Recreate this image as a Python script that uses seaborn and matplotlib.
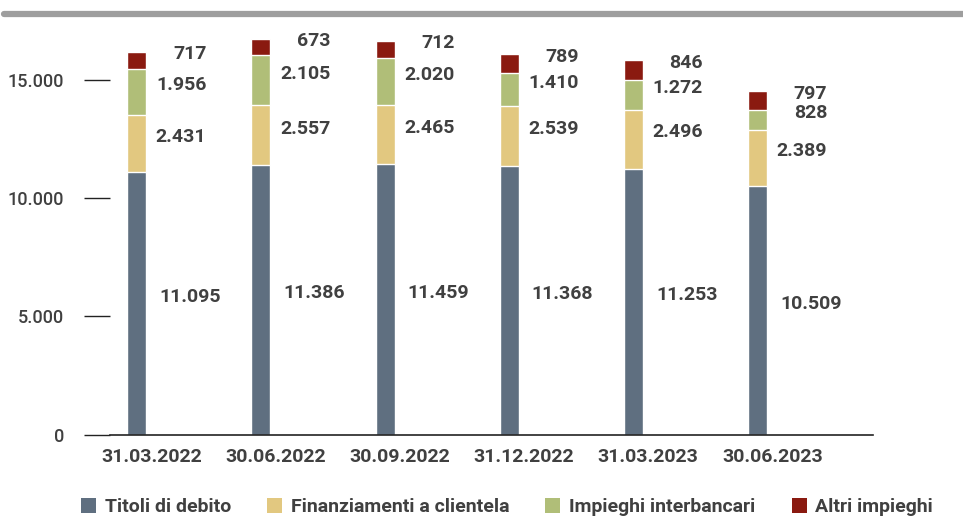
import numpy as np
import pandas as pd
import matplotlib
matplotlib.use("Agg")
import matplotlib.pyplot as plt
import seaborn as sns
from matplotlib.lines import Line2D
from matplotlib.patches import Patch

# data
dates = ["31.03.2022", "30.06.2022", "30.09.2022", "31.12.2022", "31.03.2023", "30.06.2023"]
titoli = [11095, 11386, 11459, 11368, 11253, 10509]
finanziamenti = [2431, 2557, 2465, 2539, 2496, 2389]
interbancari = [1956, 2105, 2020, 1410, 1272, 828]
altri = [717, 673, 712, 789, 846, 797]

series_names = ["Titoli di debito", "Finanziamenti a clientela", "Impieghi interbancari", "Altri impieghi"]
series_vals = [titoli, finanziamenti, interbancari, altri]
colors = ["#5f6f80", "#e2c880", "#b0be78", "#8a1a10"]
txt = "#404040"

sns.set_theme(style="white")
plt.rcParams["font.family"] = ["Roboto", "DejaVu Sans"]

fig = plt.figure(figsize=(9.63, 5.17), dpi=100)
ax = fig.add_axes([0.114, 0.1595, 0.7925, 0.80])

# cumulative stacks, drawn from the tallest down
cum = np.cumsum(np.array(series_vals), axis=0)
for i in range(3, -1, -1):
    df = pd.DataFrame({"date": dates, "val": cum[i]})
    sns.barplot(data=df, x="date", y="val", color=colors[i], width=0.153,
                saturation=1, ax=ax, zorder=2)

# value labels, to the right of each bar
offsets = [0.43, 0.56, 0.56, 0.56]
aligns = ["center", "right", "right", "right"]
for j in range(len(dates)):
    base = 0
    for i in range(4):
        v = series_vals[i][j]
        mid = base + v / 2
        label = f"{v:,}".replace(",", ".")
        ax.text(j + offsets[i], mid + 280, label, ha=aligns[i], va="center",
                fontsize=14, fontweight="bold", color=txt)
        base += v

ax.set_xlim(-0.217, 5.93)
ax.set_ylim(0, 17500)
ax.set_yticks([0, 5000, 10000, 15000])
ax.set_yticklabels(["0", "5.000", "10.000", "15.000"])
# date labels sit a bit right of the bars
ax.set_xticks(np.arange(len(dates)) + 0.12)
ax.set_xticklabels(dates)
ax.set_xlabel("")
ax.set_ylabel("")
for s in ["top", "right", "left"]:
    ax.spines[s].set_visible(False)
ax.spines["bottom"].set_color("#222222")
ax.spines["bottom"].set_linewidth(1.2)
ax.tick_params(axis="y", left=True, direction="out", length=19, width=1,
               color="#222222", pad=14, labelsize=13, labelcolor=txt)
ax.tick_params(axis="x", bottom=False, length=0, pad=10, labelsize=14,
               labelcolor=txt)
for lbl in ax.get_yticklabels():
    lbl.set_fontweight("medium")
for lbl in ax.get_xticklabels():
    lbl.set_fontweight("bold")

# gray band at the top
fig.add_artist(Line2D([0.004, 1.0], [0.973, 0.973], transform=fig.transFigure,
                      color="#9e9e9e", linewidth=4.5))

handles = [Patch(facecolor=c, edgecolor="none") for c in colors]
leg = fig.legend(handles, series_names, loc="center left", ncol=4,
                 bbox_to_anchor=(0.084, 0.019), frameon=False,
                 borderpad=0, borderaxespad=0,
                 handlelength=0.77, handleheight=0.77, columnspacing=1.85,
                 handletextpad=0.46, prop={"size": 14, "weight": "bold"})
for t in leg.get_texts():
    t.set_color(txt)

fig.savefig("out.png", dpi=100)
